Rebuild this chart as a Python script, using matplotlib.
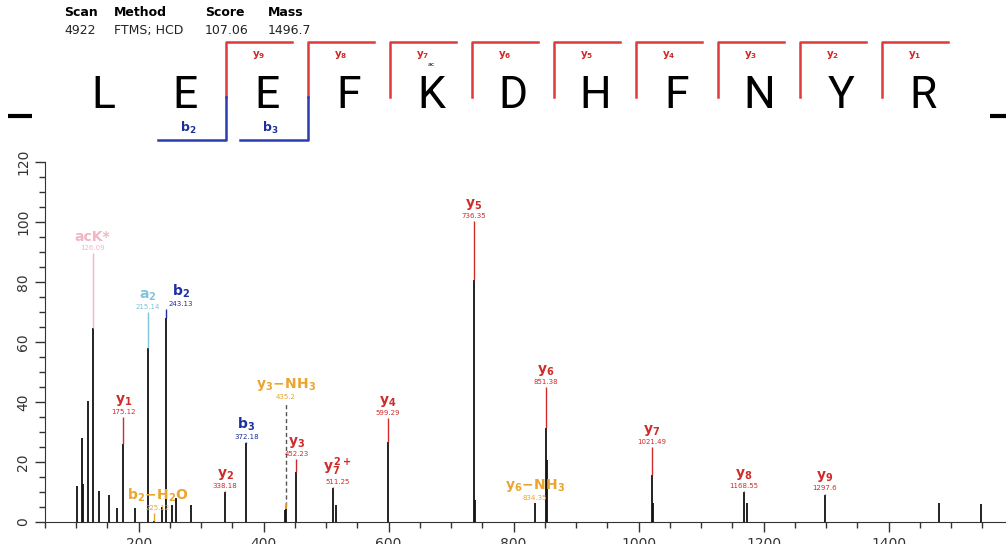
import numpy as np
import matplotlib.pyplot as plt
from matplotlib.ticker import MultipleLocator

# header of the spectrum viewer
header_keys = ["Scan", "Method", "Score", "Mass"]
header_vals = ["4922", "FTMS; HCD", "107.06", "1496.7"]

# peptide and the fragment ions found on it
sequence = ["L", "E", "E", "F", "K", "D", "H", "F", "N", "Y", "R"]
y_found = [9, 8, 7, 6, 5, 4, 3, 2, 1]
b_found = [2, 3]
modified = {4: "ac"}

# unlabelled peaks (m/z, relative intensity)
peak_mz = [100.5, 109.0, 111.0, 119.0, 136.0, 152.0, 164.5, 194.0, 236.5,
           253.5, 259.4, 283.4, 434.0, 516.5, 738.0, 853.0, 1022.5, 1172.7,
           1481.5, 1547.6]
peak_int = [12.0, 27.9, 12.6, 40.3, 10.3, 9.0, 4.8, 4.8, 5.1,
            5.7, 8.0, 5.7, 4.0, 5.7, 7.3, 20.7, 6.2, 6.4,
            6.4, 6.0]

# labelled peaks
ion_names = ["acK*", "y1", "a2", "b2-H2O", "b2", "y2", "b3", "y3-NH3", "y3",
             "y7 2+", "y4", "y5", "y6-NH3", "y6", "y7", "y8", "y9"]
ion_mz = [126.09, 175.12, 215.14, 225.12, 243.13, 338.18, 372.18, 435.20,
          452.23, 511.25, 599.29, 736.35, 834.35, 851.38, 1021.49, 1168.55,
          1297.60]
ion_text = ["126.09", "175.12", "215.14", "225.12", "243.13", "338.18",
            "372.18", "435.2", "452.23", "511.25", "599.29", "736.35",
            "834.35", "851.38", "1021.49", "1168.55", "1297.6"]
ion_int = [64.6, 26.0, 58.0, 0.5, 68.0, 10.0, 26.4, 5.5, 16.8, 11.2, 26.8,
           80.7, 6.2, 31.3, 15.7, 10.1, 9.0]
ion_top = [89.6, 35.0, 70.0, 3.0, 71.0, 10.5, 26.6, 40.0, 20.9, 11.6, 34.6,
           100.5, 6.5, 45.1, 25.1, 10.5, 9.5]
ion_kind = ["ack", "y", "a", "loss", "b", "y", "b", "loss", "y", "y", "y",
            "y", "loss", "y", "y", "y", "y"]

colors = {"y": "#cf2b2b", "b": "#1c2f9e", "a": "#7ec4dc",
          "ack": "#f2b6c4", "loss": "#e9a52e"}

mathnames = {
    "acK*": "acK*",
    "b2-H2O": r"$\mathbf{b_2\!-\!H_2O}$",
    "y3-NH3": r"$\mathbf{y_3\!-\!NH_3}$",
    "y6-NH3": r"$\mathbf{y_6\!-\!NH_3}$",
    "y7 2+": r"$\mathbf{y_7^{\,2+}}$",
}
label_dx = {"b2": 15, "y7 2+": 4, "b2-H2O": 3}


def ion_label(name):
    if name in mathnames:
        return mathnames[name]
    return r"$\mathbf{%s_{%s}}$" % (name[0], name[1:])


plt.rcParams["mathtext.fontset"] = "dejavusans"

fig = plt.figure(figsize=(10.06, 5.44), dpi=100)

# ---- top panel, drawn in pixel coordinates ----
top = fig.add_axes([0, 0, 1, 1])
top.set_xlim(0, 1006)
top.set_ylim(544, 0)
top.axis("off")

key_x = [64, 114, 205, 268]
for k, v, x in zip(header_keys, header_vals, key_x):
    top.text(x, 12, k, fontsize=9, fontweight="bold", va="center", ha="left")
    top.text(x, 30.5, v, fontsize=9, va="center", ha="left", color="#222")

x0, step = 103, 82
centers = [x0 + step * i for i in range(len(sequence))]
for i, aa in enumerate(sequence):
    top.text(centers[i], 96, aa, fontsize=32, ha="center", va="center",
             family="Roboto", fontweight="normal")
    if i in modified:
        top.text(centers[i], 65, modified[i], fontsize=4.5, ha="center",
                 va="center")
top.plot([8, 32], [116, 116], color="k", lw=3, solid_capstyle="butt")
top.plot([990, 1006], [116, 116], color="k", lw=3, solid_capstyle="butt")

n = len(sequence)
for k in y_found:
    bx = centers[n - k] - step / 2
    top.plot([bx, bx, bx + 66], [97, 42, 42], color="#e0393b", lw=1.8)
    top.text(bx + 33, 55, r"$\mathbf{y_{%d}}$" % k, fontsize=7.5,
             color=colors["y"], ha="center", va="center")
for k in b_found:
    bx = centers[k] - step / 2
    top.plot([bx, bx, bx - 68], [97, 140, 140], color="#2a3cb0", lw=1.8)
    top.text(bx - 38, 128, r"$\mathbf{b_{%d}}$" % k, fontsize=9,
             color=colors["b"], ha="center", va="center")

# ---- spectrum ----
ax = fig.add_axes([45 / 1006, 22 / 544, 961 / 1006, 360 / 544])
ax.set_xlim(50, 1588)
ax.set_ylim(0, 120)

ax.vlines(peak_mz, 0, peak_int, color="#111111", lw=1.3)
ax.vlines(ion_mz, 0, ion_int, color="#111111", lw=1.3)
for name, mz, txt, h, t, kind in zip(ion_names, ion_mz, ion_text, ion_int,
                                     ion_top, ion_kind):
    c = colors[kind]
    if name == "y3-NH3":
        ax.vlines(mz, h, t, color="#555555", lw=1, linestyles=(0, (3, 2)))
        ax.vlines(mz, h - 1, h + 0.8, color=c, lw=1.3)
    else:
        ax.vlines(mz, h, t, color=c, lw=1)
    dx = label_dx.get(name, 0)
    ax.annotate(txt, xy=(mz, t), xytext=(dx, 2), textcoords="offset pixels",
                ha="center", va="bottom", fontsize=5, color=c)
    ax.annotate(ion_label(name), xy=(mz, t), xytext=(dx, 9),
                textcoords="offset pixels", ha="center", va="bottom",
                fontsize=10, color=c, fontweight="bold")

ax.xaxis.set_major_locator(MultipleLocator(200))
ax.xaxis.set_minor_locator(MultipleLocator(50))
ax.yaxis.set_major_locator(MultipleLocator(20))
ax.yaxis.set_minor_locator(MultipleLocator(5))
ax.tick_params(which="major", length=7, width=1, color="#333", labelsize=10,
               labelcolor="#333")
ax.tick_params(which="minor", length=4, width=1, color="#333")
ax.tick_params(axis="x", which="major", pad=4)
for lab in ax.get_yticklabels():
    lab.set_rotation(90)
    lab.set_va("center")
for s in ["top", "right"]:
    ax.spines[s].set_visible(False)
for s in ["left", "bottom"]:
    ax.spines[s].set_color("#333")

fig.savefig("out.png", dpi=100)
